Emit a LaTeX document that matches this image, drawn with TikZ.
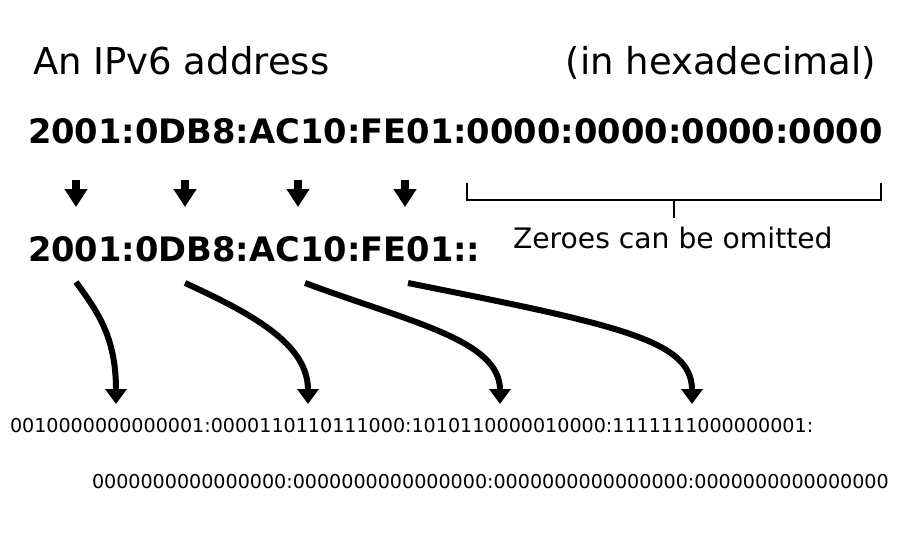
\documentclass[tikz,border=0pt]{standalone}
\usepackage{fontspec}
\setmainfont{DejaVu Sans}
\usetikzlibrary{arrows.meta}

\begin{document}
\begin{tikzpicture}[x=1pt,y=-1pt]

        \useasboundingbox (0,0) rectangle (900,533);

        % Text lines, each placed at its baseline
        \begin{scope}[every node/.style={inner sep=0pt,outer sep=0pt}]
        \node[anchor=base west] (title) at (33,74) {\fontsize{37}{44}\selectfont An IPv6 address};
        \node[anchor=base east] (hexnote) at (876,74) {\fontsize{37}{44}\selectfont (in hexadecimal)};
        \node[anchor=base west] (fullhex) at (28,143) {\fontsize{33.7}{40}\selectfont\bfseries 2001:0DB8:AC10:FE01:0000:0000:0000:0000};
        \node[anchor=base west] (shorthex) at (28,261) {\fontsize{33.7}{40}\selectfont\bfseries 2001:0DB8:AC10:FE01::};
        \node[anchor=base west] (omitnote) at (513,248) {\fontsize{28.2}{34}\selectfont Zeroes can be omitted};
        \node[anchor=base west] (binone) at (10,432) {\fontsize{19.1}{23}\selectfont 0010000000000001:0000110110111000:1010110000010000:1111111000000001:};
        \node[anchor=base west] (bintwo) at (92,488) {\fontsize{19.1}{23}\selectfont 0000000000000000:0000000000000000:0000000000000000:0000000000000000};
        \end{scope}

        % Ends of the arrows
        \coordinate (a1) at (76,180);  \coordinate (b1) at (76,207);
        \coordinate (a2) at (185,180); \coordinate (b2) at (185,207);
        \coordinate (a3) at (298,180); \coordinate (b3) at (298,207);
        \coordinate (a4) at (405,180); \coordinate (b4) at (405,207);

        \coordinate (s1) at (76,282);  \coordinate (e1) at (116,404);
        \coordinate (s2) at (185,283); \coordinate (e2) at (308,404);
        \coordinate (s3) at (305,283); \coordinate (e3) at (500,404);
        \coordinate (s4) at (408,283); \coordinate (e4) at (692,404);

        % Short arrows, hex to shortened hex
        \begin{scope}[>={Triangle[width=22pt,length=18pt]}, line width=8pt]
        \draw [->] (a1) -- (b1);
        \draw [->] (a2) -- (b2);
        \draw [->] (a3) -- (b3);
        \draw [->] (a4) -- (b4);
        \end{scope}

        % Long bent arrows, hex to binary
        \begin{scope}[>={Triangle[width=21pt,length=15pt]}, line width=6pt]
        \draw [->] (s1) .. controls (96,310) and (116,335) .. (e1);
        \draw [->] (s2) .. controls (255,315) and (308,345) .. (e2);
        \draw [->] (s3) .. controls (410,322) and (500,340) .. (e3);
        \draw [->] (s4) .. controls (618,325) and (692,340) .. (e4);
        \end{scope}

        % Bracket over the zero groups
        \coordinate (k1) at (467,183);
        \coordinate (k2) at (881,183);
        \coordinate (km) at (674,200);
        \draw [line width=2.2pt] (k1) |- (km) -| (k2);
        \draw [line width=2.2pt] (km) -- (674,218);

\end{tikzpicture}
\end{document}
